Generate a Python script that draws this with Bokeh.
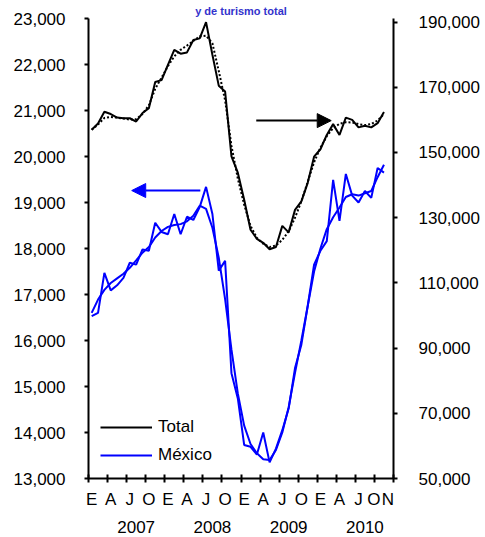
from bokeh.plotting import figure
from bokeh.models import (Range1d, LinearAxis, FixedTicker, NumeralTickFormatter,
                          CustomJSTickFormatter, Legend, LegendItem, Arrow, NormalHead, Title)
from bokeh.embed import file_html
from bokeh.resources import INLINE

# ---------------- data (monthly, Jan 2007 .. Nov 2010) ----------------
months = list(range(47))

total = [157000, 158900, 162500, 161800, 160700, 160500, 160500, 159500, 162100, 163600,
         171600, 172200, 176900, 181500, 180300, 180700, 184500, 185000, 190000, 180000,
         170500, 168700, 148800, 143800, 135500, 126300, 123500, 122300, 120300, 121000,
         127500, 125500, 132400, 135000, 140700, 148700, 151000, 155400, 158700, 155400,
         160700, 160000, 157700, 158200, 157700, 159000, 162400]

total_trend = [157000, 158600, 160600, 160900, 160700, 160400, 160100, 160200, 161800, 164500,
               169500, 173000, 176500, 179500, 181500, 182800, 184200, 185600, 185800, 183500,
               175000, 166000, 152000, 142000, 134000, 127500, 123800, 122000, 121000, 121500,
               123200, 125800, 130000, 135000, 141000, 147000, 151500, 155000, 157500, 158800,
               159300, 159200, 158700, 158400, 158700, 159800, 161800]

mexico = [16530, 16600, 17470, 17090, 17200, 17360, 17690, 17650, 17980, 17950,
          18560, 18360, 18310, 18750, 18310, 18690, 18620, 18900, 19340, 18750,
          17520, 17730, 15290, 14740, 13730, 13690, 13520, 14000, 13350, 13650,
          14050, 14520, 15400, 15910, 16750, 17650, 17950, 18160, 19490, 18600,
          19620, 19150, 19000, 19250, 19100, 19750, 19650]

mexico_trend = [16600, 16890, 17100, 17250, 17350, 17450, 17580, 17740, 17910, 18030,
                18240, 18380, 18470, 18510, 18530, 18590, 18710, 18930, 18860, 18450,
                17800, 16900, 15800, 14850, 14150, 13750, 13550, 13420, 13400, 13620,
                14000, 14550, 15300, 16000, 16750, 17500, 18000, 18420, 18680, 18890,
                19120, 19180, 19150, 19200, 19250, 19550, 19820]

x_tick_labels = ["E", "A", "J", "O", "E", "A", "J", "O", "E", "A", "J", "O", "E", "A", "J", "O", "N"]
year_labels = ["2007", "2008", "2009", "2010"]
left_ticks = list(range(13000, 23001, 1000))
right_ticks = list(range(50000, 190001, 20000))
series_names = ["Total", "México"]
title_text = "y de turismo total"

# ---------------- layout helpers ----------------
FONT = "Liberation Sans"
FS = "17px"
BLUE = "#0000FF"

n_slots = 48
x_label_pos = [3 * i for i in range(15)] + [44.4, 46.6]
year_pos = [12 * i + 7 for i in range(4)]
quarter_bounds = [3 * i - 0.5 for i in range(17)]

p = figure(frame_width=305, frame_height=460,
           x_range=Range1d(-0.5, n_slots - 0.5), y_range=Range1d(13000, 23000),
           output_backend="svg", toolbar_location=None,
           min_border_left=80, min_border_right=90, min_border_top=18, min_border_bottom=0)
p.styles = {"margin-left": "8px", "margin-bottom": "-10px"}
p.extra_y_ranges = {"right": Range1d(50000, 191100)}
p.outline_line_color = None
p.xgrid.visible = False
p.ygrid.visible = False
p.background_fill_color = "white"
p.border_fill_color = "white"

# title line at the very top
p.add_layout(Title(text=title_text, align="center", vertical_align="top", standoff=0,
                   offset=4, text_font=FONT, text_font_size="11px", text_font_style="bold",
                   text_color="#3333CC"), "above")

# bottom axis: quarter tick marks (minor) + month letters
xa = p.xaxis[0]
xa.ticker = FixedTicker(ticks=x_label_pos, minor_ticks=quarter_bounds)
xa.formatter = CustomJSTickFormatter(args=dict(labels=x_tick_labels), code="return labels[index];")
xa.major_tick_in = 0
xa.major_tick_out = 0
xa.minor_tick_in = 4
xa.minor_tick_out = 4
xa.minor_tick_line_width = 2
xa.minor_tick_line_color = "black"
xa.axis_line_width = 2
xa.axis_line_color = "black"
xa.major_label_standoff = 7
xa.major_label_text_font = FONT
xa.major_label_text_font_size = FS
xa.major_label_text_color = "black"

ya_years = LinearAxis(ticker=FixedTicker(ticks=year_pos),
                      formatter=CustomJSTickFormatter(args=dict(labels=year_labels), code="return labels[index];"),
                      axis_line_color=None, major_tick_line_color=None, minor_tick_line_color=None,
                      major_tick_in=0, major_tick_out=0, major_label_standoff=9,
                      major_label_text_font=FONT, major_label_text_font_size=FS,
                      major_label_text_color="black")
p.add_layout(ya_years, "below")

# left axis (México)
la = p.yaxis[0]
la.ticker = FixedTicker(ticks=left_ticks)
la.formatter = NumeralTickFormatter(format="0,0")
la.major_tick_in = 0
la.major_tick_out = 4
la.major_tick_line_width = 2
la.minor_tick_line_color = None
la.axis_line_width = 2
la.major_label_standoff = 19
la.major_label_text_font = FONT
la.major_label_text_font_size = FS
la.major_label_text_color = "black"

# right axis (Total)
ra = LinearAxis(y_range_name="right", ticker=FixedTicker(ticks=right_ticks),
                formatter=NumeralTickFormatter(format="0,0"),
                major_tick_in=0, major_tick_out=4, major_tick_line_width=2,
                minor_tick_line_color=None, axis_line_width=2,
                major_label_standoff=21, major_label_text_font=FONT,
                major_label_text_font_size=FS, major_label_text_color="black")
p.add_layout(ra, "right")

# lines
r_total = p.line(months, total, y_range_name="right", line_color="black", line_width=2)
p.line(months, total_trend, y_range_name="right", line_color="black", line_width=2, line_dash="2 2")
r_mex = p.line(months, mexico, line_color=BLUE, line_width=2)
p.line(months, mexico_trend, line_color=BLUE, line_width=2)

# arrows
p.add_layout(Arrow(x_start=25.9, y_start=20780, x_end=37.7, y_end=20780,
                   line_color="black", line_width=2,
                   end=NormalHead(size=14, fill_color="black", line_color="black")))
p.add_layout(Arrow(x_start=17.1, y_start=19260, x_end=6.3, y_end=19260,
                   line_color=BLUE, line_width=2,
                   end=NormalHead(size=14, fill_color=BLUE, line_color=BLUE)))

# legend
legend = Legend(items=[LegendItem(label=series_names[0], renderers=[r_total]),
                       LegendItem(label=series_names[1], renderers=[r_mex])],
                location=(12, 13), border_line_color=None, background_fill_alpha=0,
                padding=0, margin=0, spacing=8, glyph_width=52, glyph_height=20,
                label_height=20, label_standoff=6,
                label_text_font=FONT, label_text_font_size=FS, label_text_color="black")
p.add_layout(legend)

open("out.html", "w").write(file_html(p, INLINE))
